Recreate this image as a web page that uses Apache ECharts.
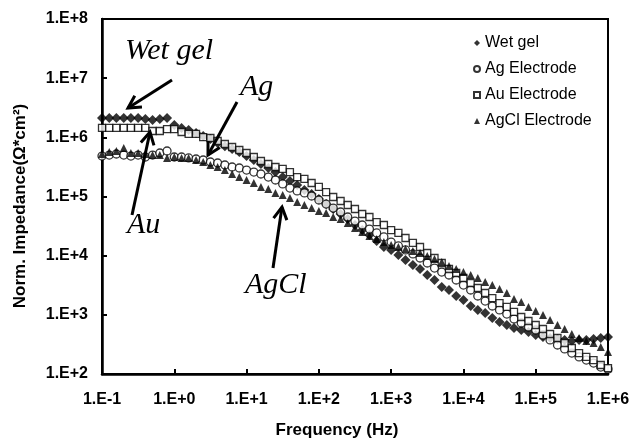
<!DOCTYPE html>
<html>
<head>
<meta charset="utf-8">
<script src="https://cdn.jsdelivr.net/npm/echarts@6/dist/echarts.min.js"></script>
<style>
  html, body { margin: 0; padding: 0; background: #fff; }
  #chart { width: 635px; height: 441px; }
</style>
</head>
<body>
<div id="chart"></div>
<script>
// frequency points (Hz), 10 per decade
var freq = [0.1, 0.126, 0.158, 0.2, 0.251, 0.316, 0.398, 0.501, 0.631, 0.794,
  1, 1.26, 1.58, 2, 2.51, 3.16, 3.98, 5.01, 6.31, 7.94,
  10, 12.6, 15.8, 20, 25.1, 31.6, 39.8, 50.1, 63.1, 79.4,
  100, 126, 158, 200, 251, 316, 398, 501, 631, 794,
  1000, 1260, 1580, 2000, 2510, 3160, 3980, 5010, 6310, 7940,
  10000, 12600, 15800, 20000, 25100, 31600, 39800, 50100, 63100, 79400,
  100000, 126000, 158000, 200000, 251000, 316000, 398000, 501000, 631000, 794000,
  1000000];

// normalized impedance (Ohm*cm2)
var wetGel = [2.12e6, 2.12e6, 2.12e6, 2.12e6, 2.12e6, 2.12e6, 2.04e6, 1.96e6, 2.04e6, 2.12e6,
  1.62e6, 1.44e6, 1.33e6, 1.18e6, 1.05e6, 9.4e5, 8.0e5, 7.1e5, 6.35e5, 5.65e5,
  4.83e5, 4.14e5, 3.54e5, 3.03e5, 2.59e5, 2.13e5, 1.83e5, 1.56e5, 1.29e5, 1.10e5,
  9.07e4, 7.46e4, 6.15e4, 5.06e4, 4.17e4, 3.30e4, 2.71e4, 2.23e4, 1.77e4, 1.40e4,
  1.25e4, 1.03e4, 8.45e3, 6.95e3, 5.95e3, 4.71e3, 3.88e3, 2.95e3, 2.63e3, 2.08e3,
  1.78e3, 1.41e3, 1.21e3, 1.07e3, 884, 756, 673, 599, 554, 513,
  456, 422, 406, 391, 376, 361, 376, 376, 391, 406,
  422];

var agElec = [4.83e5, 5.02e5, 5.23e5, 5.02e5, 4.83e5, 5.02e5, 4.65e5, 5.02e5, 5.43e5, 5.87e5,
  4.65e5, 4.65e5, 4.48e5, 4.30e5, 4.14e5, 3.83e5, 3.68e5, 3.41e5, 3.15e5, 3.03e5,
  2.80e5, 2.59e5, 2.40e5, 2.13e5, 1.90e5, 1.63e5, 1.39e5, 1.24e5, 1.15e5, 1.02e5,
  8.73e4, 7.46e4, 6.38e4, 5.47e4, 4.50e4, 3.85e4, 3.30e4, 2.82e4, 2.42e4, 2.07e4,
  1.70e4, 1.46e4, 1.25e4, 1.07e4, 9.13e3, 7.51e3, 6.18e3, 5.29e3, 4.71e3, 3.88e3,
  3.19e3, 2.63e3, 2.08e3, 1.71e3, 1.41e3, 1.21e3, 1.03e3, 851, 728, 623,
  554, 456, 376, 309, 265, 226, 194, 172, 153, 131,
  121];

var auElec = [1.44e6, 1.44e6, 1.44e6, 1.44e6, 1.44e6, 1.44e6, 1.44e6, 1.28e6, 1.28e6, 1.38e6,
  1.38e6, 1.23e6, 1.14e6, 1.14e6, 1.01e6, 9.74e5, 8.67e5, 7.71e5, 6.86e5, 6.11e5,
  5.43e5, 4.65e5, 3.98e5, 3.54e5, 3.15e5, 2.92e5, 2.59e5, 2.13e5, 1.98e5, 1.69e5,
  1.45e5, 1.19e5, 9.80e4, 8.39e4, 7.18e4, 6.15e4, 5.06e4, 4.50e4, 3.70e4, 3.30e4,
  2.71e4, 2.42e4, 1.99e4, 1.64e4, 1.40e4, 1.11e4, 9.13e3, 7.51e3, 5.95e3, 5.09e3,
  4.19e3, 3.45e3, 2.84e3, 2.34e3, 1.92e3, 1.58e3, 1.36e3, 1.12e3, 919, 787,
  673, 576, 474, 406, 334, 275, 226, 194, 172, 142,
  126];

var agclElec = [5.23e5, 5.65e5, 5.87e5, 6.60e5, 5.43e5, 5.43e5, 5.23e5, 5.02e5, 5.02e5, 4.48e5,
  4.65e5, 4.48e5, 4.48e5, 4.14e5, 3.83e5, 3.41e5, 3.15e5, 2.80e5, 2.40e5, 2.13e5,
  1.90e5, 1.69e5, 1.45e5, 1.34e5, 1.15e5, 1.06e5, 9.42e4, 8.07e4, 7.18e4, 6.38e4,
  5.69e4, 5.26e4, 4.50e4, 4.17e4, 3.56e4, 2.93e4, 2.51e4, 2.15e4, 1.91e4, 1.70e4,
  1.51e4, 1.40e4, 1.30e4, 1.20e4, 1.11e4, 9.86e3, 8.78e3, 7.81e3, 6.68e3, 5.95e3,
  5.29e3, 4.71e3, 4.19e3, 3.59e3, 3.19e3, 2.73e3, 2.34e3, 1.85e3, 1.65e3, 1.36e3,
  1.16e3, 993, 818, 673, 576, 474, 406, 361, 334, 286,
  235];

var seriesNames = ['Wet gel', 'Ag Electrode', 'Au Electrode', 'AgCl Electrode'];

function pairs(vals) {
  return freq.map(function (f, i) { return [f, vals[i]]; });
}

function expLabel(v) {
  var e = Math.round(Math.log(v) / Math.LN10);
  return '1.E' + (e < 0 ? '-' : '+') + Math.abs(e);
}

// arrow: shaft plus open head
function arrow(x1, y1, x2, y2) {
  var a = Math.atan2(y2 - y1, x2 - x1), L = 14, w = 0.5;
  return [
    { type: 'line', shape: { x1: x1, y1: y1, x2: x2, y2: y2 },
      style: { stroke: '#000', lineWidth: 3 }, z: 20 },
    { type: 'polyline', shape: { points: [
        [x2 - L * Math.cos(a - w), y2 - L * Math.sin(a - w)],
        [x2, y2],
        [x2 - L * Math.cos(a + w), y2 - L * Math.sin(a + w)]] },
      style: { stroke: '#000', lineWidth: 3, fill: null }, z: 20 }
  ];
}

function label(text, x, y) {
  return { type: 'text', x: x, y: y, z: 20,
    style: { text: text, fontFamily: 'Liberation Serif', fontStyle: 'italic', fontSize: 30,
      fill: '#000', verticalAlign: 'bottom' } };
}

var sans = 'Liberation Sans';
var axisFont = { fontFamily: sans, fontWeight: 'bold', fontSize: 16, color: '#000' };

var chart = echarts.init(document.getElementById('chart'));
var option = {
  backgroundColor: '#fff',
  animation: false,
  grid: { left: 102, right: 27, top: 19, bottom: 67, show: true, borderColor: '#000', borderWidth: 2 },
  legend: {
    orient: 'vertical', left: 468, top: 30, itemGap: 10, itemWidth: 6, itemHeight: 6,
    data: seriesNames,
    textStyle: { fontFamily: sans, fontSize: 16, color: '#000' }
  },
  xAxis: {
    type: 'log', logBase: 10, min: 0.1, max: 1e6, splitNumber: 7,
    axisLine: { lineStyle: { color: '#000', width: 2.5 } },
    axisTick: { inside: true, length: 5, lineStyle: { color: '#000', width: 2 } },
    splitLine: { show: false },
    axisLabel: Object.assign({ margin: 18, formatter: expLabel }, axisFont)
  },
  yAxis: {
    type: 'log', logBase: 10, min: 100, max: 1e8, splitNumber: 6,
    axisLine: { lineStyle: { color: '#000', width: 2.5 } },
    axisTick: { inside: true, length: 5, lineStyle: { color: '#000', width: 2 } },
    splitLine: { show: false },
    axisLabel: Object.assign({ margin: 14, formatter: expLabel }, axisFont)
  },
  series: [
    { name: seriesNames[0], type: 'scatter', symbol: 'diamond', symbolSize: 10,
      itemStyle: { color: '#000' }, data: pairs(wetGel) },
    { name: seriesNames[1], type: 'scatter', symbol: 'circle', symbolSize: 8,
      itemStyle: { color: '#fff', borderColor: '#000', borderWidth: 1.3 }, data: pairs(agElec) },
    { name: seriesNames[2], type: 'scatter', symbol: 'rect', symbolSize: 7,
      itemStyle: { color: '#fff', borderColor: '#000', borderWidth: 1.3 }, data: pairs(auElec) },
    { name: seriesNames[3], type: 'scatter', symbol: 'triangle', symbolSize: 8,
      itemStyle: { color: '#000' }, data: pairs(agclElec) }
  ],
  graphic: [
    { type: 'text', x: 20, y: 206, rotation: Math.PI / 2, z: 20,
      style: { text: 'Norm. Impedance(Ω*cm²)', fontFamily: sans, fontWeight: 'bold', fontSize: 17,
        fill: '#000', align: 'center', verticalAlign: 'middle' } },
    { type: 'text', x: 337, y: 430, z: 20,
      style: { text: 'Frequency (Hz)', fontFamily: sans, fontWeight: 'bold', fontSize: 17,
        fill: '#000', align: 'center', verticalAlign: 'middle' } },
    label('Wet gel', 125, 66),
    label('Ag', 240, 102),
    label('Au', 127, 240),
    label('AgCl', 245, 300)
  ].concat(arrow(172, 80, 128, 108), arrow(237, 102, 208, 155),
           arrow(132, 215, 150, 132), arrow(273, 268, 282, 207))
};
chart.setOption(option);
</script>
</body>
</html>
